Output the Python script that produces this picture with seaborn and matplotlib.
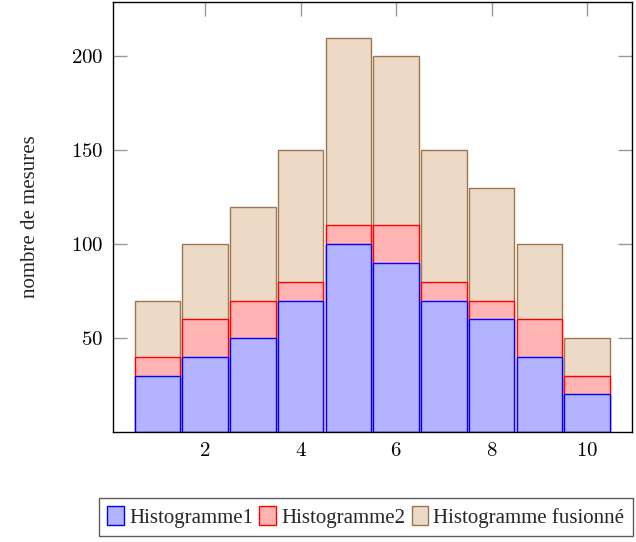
import matplotlib
matplotlib.use("Agg")
import matplotlib.pyplot as plt
import seaborn as sns
import pandas as pd
from matplotlib.patches import Patch
from matplotlib.ticker import FuncFormatter

classes = [1, 2, 3, 4, 5, 6, 7, 8, 9, 10]
histo1 = [30, 40, 50, 70, 100, 90, 70, 60, 40, 20]
histo2 = [10, 20, 20, 10, 10, 20, 10, 10, 20, 10]
fusion = [30, 40, 50, 70, 100, 90, 70, 60, 40, 20]
labels = ["Histogramme1", "Histogramme2", "Histogramme fusionné"]

sns.set_theme(style="white")
plt.rcParams["font.family"] = ["Liberation Serif", "DejaVu Serif"]
plt.rcParams["mathtext.fontset"] = "cm"

cum1 = histo1
cum2 = [a + b for a, b in zip(histo1, histo2)]
cum3 = [a + b for a, b in zip(cum2, fusion)]
df = pd.DataFrame({"x": classes, "c1": cum1, "c2": cum2, "c3": cum3})

fig = plt.figure(figsize=(6.36, 5.42), dpi=100)
ax = fig.add_axes([0.1777, 0.2030, 0.8160, 0.7933])

styles = [
    ("c3", "#ECD9C6", "#9E7650"),
    ("c2", "#FFB3B3", "#FF0000"),
    ("c1", "#B3B3FF", "#0000FF"),
]
for col, fc, ec in styles:
    sns.barplot(data=df, x="x", y=col, native_scale=True, width=0.95,
                color=fc, saturation=1, edgecolor=ec, linewidth=1.0, ax=ax)

ax.set_xlim(0.07, 10.94)
ax.set_ylim(0, 229)
ax.set_xticks([2, 4, 6, 8, 10])
ax.set_yticks([50, 100, 150, 200])
fmt = FuncFormatter(lambda v, p: r"$%d$" % int(round(v)))
ax.xaxis.set_major_formatter(fmt)
ax.yaxis.set_major_formatter(fmt)
ax.set_xlabel("")
ax.set_ylabel("nombre de mesures", fontsize=15, labelpad=22)
ax.tick_params(axis="both", which="both", direction="in", length=10, width=1.0,
               color="#999999", top=True, right=True, bottom=True, left=True,
               labelsize=15, pad=7, labelcolor="black")
for s in ax.spines.values():
    s.set_color("black")
    s.set_linewidth(1.0)
ax.grid(False)

handles = [Patch(facecolor=fc, edgecolor=ec, linewidth=1.0)
           for _, fc, ec in reversed(styles)]
leg = fig.legend(handles, labels, loc="center left", bbox_to_anchor=(99 / 636, 1 - 517 / 542),
                 ncol=3, fontsize=15, frameon=True, fancybox=False,
                 handlelength=0.8, handleheight=1.0, handletextpad=0.25,
                 columnspacing=0.3, borderpad=0.4, borderaxespad=0)
leg.get_frame().set_edgecolor("#333333")
leg.get_frame().set_linewidth(1.0)

fig.savefig("out.png", dpi=100)
